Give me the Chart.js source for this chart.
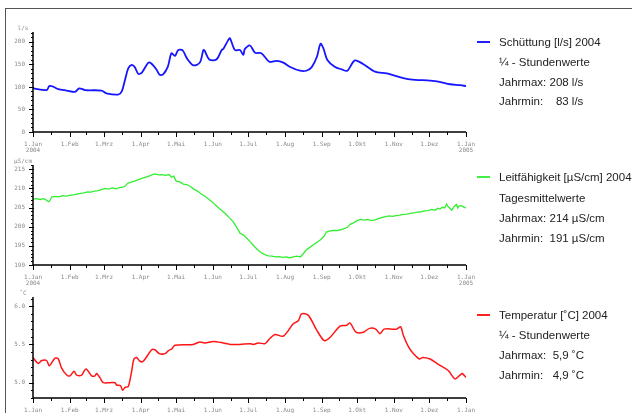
<!DOCTYPE html>
<html>
<head>
<meta charset="utf-8">
<script src="https://cdn.jsdelivr.net/npm/chart.js@4/dist/chart.umd.min.js"></script>
<style>
  html, body { margin: 0; padding: 0; background: #fff; }
  #page { position: relative; width: 632px; height: 413px; overflow: hidden; }
  #frame { position: absolute; left: 5px; top: 8px; right: 0; bottom: 0;
    border-top: 1.5px solid #555; border-left: 1.5px solid #555; }
  canvas { position: absolute; left: 0; top: 0; }
  .leg { position: absolute; left: 499px; font-family: "Liberation Sans", Arial, sans-serif;
    font-size: 11.5px; color: #222; white-space: pre; line-height: 14px; margin-top: -7px; }
  .swatch { position: absolute; left: 477px; width: 13px; height: 2px; }
</style>
</head>
<body>
<div id="page">
  <div id="frame"></div>
  <canvas id="flowChart" width="632" height="413"></canvas>
  <canvas id="condChart" width="632" height="413"></canvas>
  <canvas id="tempChart" width="632" height="413"></canvas>

  <div class="swatch" style="top:41px;background:#2020ff"></div>
  <div class="leg" style="top:42px">Schüttung [l/s] 2004</div>
  <div class="leg" style="top:62px">¼ - Stundenwerte</div>
  <div class="leg" style="top:82px">Jahrmax: 208 l/s</div>
  <div class="leg" style="top:101px">Jahrmin:    83 l/s</div>

  <div class="swatch" style="top:176px;background:#44ee44"></div>
  <div class="leg" style="top:177px">Leitfähigkeit [µS/cm] 2004</div>
  <div class="leg" style="top:198px">Tagesmittelwerte</div>
  <div class="leg" style="top:218px">Jahrmax: 214 µS/cm</div>
  <div class="leg" style="top:238px">Jahrmin:  191 µS/cm</div>

  <div class="swatch" style="top:314px;background:#ff2020"></div>
  <div class="leg" style="top:315px">Temperatur [˚C] 2004</div>
  <div class="leg" style="top:335px">¼ - Stundenwerte</div>
  <div class="leg" style="top:355px">Jahrmax:  5,9 ˚C</div>
  <div class="leg" style="top:375px">Jahrmin:   4,9 ˚C</div>
</div>
<script>
/* x axis: day of year 2004 (leap year), 1.Jan 2005 = 366 */
const monthDays = [0, 31, 60, 91, 121, 152, 182, 213, 244, 274, 305, 335, 366];
const monthLabels = ["1.Jan", "1.Feb", "1.Mrz", "1.Apr", "1.Mai", "1.Jun", "1.Jul",
  "1.Aug", "1.Sep", "1.Okt", "1.Nov", "1.Dez", "1.Jan"];
const midDays = [15, 45, 75, 106, 136, 167, 197, 228, 259, 289, 320, 350];

/* Schüttung [l/s] */
const flowDays = [0, 11.5, 13.8, 16.7, 21.4, 28.5, 35.5, 39, 44, 58, 62, 72, 75, 77.8, 80.5,
  83.4, 86, 89, 92, 97.5, 100, 104.5, 107, 110, 114, 117, 120, 122.8, 126.5, 130, 135.5,
  141, 144, 145, 149, 155, 159.5, 161, 165, 166.5, 170.7, 175, 177.8, 179, 183.4, 187.7,
  193, 199.7, 206, 211.6, 217, 225.7, 231, 235.6, 240, 243, 245.4, 248.8, 255, 261, 265.7,
  272, 279, 289, 299, 307, 318.7, 335.6, 342.6, 352.5, 361, 366];
const flowValues = [97, 93, 102, 101, 95, 92, 89, 97, 93, 92, 86, 83, 90, 116, 141,
  149, 144, 129, 132, 154, 152, 138, 127, 128, 145, 175, 169, 182, 181, 164, 148,
  154, 182, 181, 161, 161, 182, 185, 204, 208, 182, 182, 171, 184, 192, 176,
  175, 156, 158, 154, 145, 136, 136, 144, 167, 196, 186, 160, 145, 139, 136,
  159, 151, 134, 130, 124, 117, 114, 112, 106, 104, 102];
const flowTicks = [0, 50, 100, 150, 200];

/* Leitfähigkeit [µS/cm] */
const condDays = [0, 3, 6, 9, 11, 13, 14, 16, 19, 22, 25, 28, 31, 34, 37, 40, 43, 46, 49, 52,
  55, 58, 61, 64, 67, 70, 73, 76, 78, 80, 83, 86, 89, 92, 95, 98, 101, 103, 106, 109, 112,
  115, 117, 119, 121, 124, 127, 130, 133, 136, 139, 142, 145, 148, 151, 154, 157, 160, 163,
  166, 169, 172, 175, 178, 181, 184, 187, 190, 193, 196, 199, 202, 205, 208, 211, 214, 217,
  220, 223, 226, 228, 231, 234, 237, 240, 243, 246, 248, 251, 254, 257, 260, 263, 266, 268,
  271, 274, 277, 280, 283, 286, 289, 292, 295, 298, 301, 304, 307, 310, 313, 316, 319, 322,
  325, 328, 331, 334, 337, 340, 342, 344, 346, 348, 349.6, 351, 353, 354, 356, 358, 359,
  360, 362, 364, 366];
const condValues = [207.2, 207.3, 207.1, 207.3, 207.0, 206.5, 206.7, 207.8, 207.9, 207.8,
  208.1, 208.0, 208.2, 208.3, 208.5, 208.7, 208.8, 209.1, 209.0, 209.3, 209.4, 209.7, 210.0,
  209.8, 210.1, 209.9, 210.2, 210.3, 210.6, 211.3, 211.6, 211.9, 212.3, 212.6, 212.9, 213.2,
  213.6, 213.8, 213.5, 213.6, 213.4, 213.6, 212.9, 213.2, 211.9, 211.7, 211.1, 211.0, 210.5,
  209.8, 209.3, 208.6, 208.0, 207.3, 206.6, 205.7, 204.9, 204.1, 203.3, 202.3, 201.4, 199.9,
  198.3, 197.8, 196.9, 195.9, 194.9, 193.9, 193.2, 192.7, 192.4, 192.3, 192.1, 192.2, 192.0,
  192.1, 191.9, 192.1, 192.3, 192.1, 192.8, 193.9, 194.6, 195.3, 195.9, 196.6, 197.5, 198.6,
  198.9, 199.0, 199.0, 199.2, 199.5, 199.9, 200.6, 201.0, 201.6, 201.9, 201.7, 201.9, 201.6,
  201.8, 202.1, 202.4, 202.6, 202.8, 202.7, 202.9, 203.0, 203.2, 203.3, 203.5, 203.6, 203.8,
  203.9, 204.1, 204.2, 204.5, 204.3, 204.8, 204.6, 205.1, 204.9, 205.9, 205.2, 204.6, 204.3,
  205.3, 205.8, 204.9, 205.4, 205.5, 205.1, 204.9];
const condTicks = [190, 195, 200, 205, 210, 215];

/* Temperatur [˚C] */
const tempDays = [0, 0.9, 4.5, 7.3, 11.5, 13.8, 18.6, 21.4, 24.2, 28.5, 31.3, 34.7, 36.9, 41,
  44.8, 49.6, 52.4, 53.8, 56.4, 59.4, 65, 69.3, 70.7, 74, 75.8, 77.8, 80.5, 83.4, 85.3, 87.6,
  90.4, 93.2, 100.3, 103, 106.8, 111.6, 114.5, 117.2, 120, 135.5, 140.6, 145.5, 152.4, 160.9,
  166.5, 175, 183.4, 186.2, 190.5, 196.1, 200.3, 204.5, 211.6, 220, 224.3, 227, 232.7, 239.7,
  246.2, 251, 259.5, 265.1, 268, 273, 279.3, 284.4, 289.7, 293.3, 296.7, 304.6, 307.4, 310.8,
  313, 317.3, 321.5, 326.6, 329.4, 335.6, 342.6, 351, 356.7, 361, 362.7, 366];
const tempValues = [5.33, 5.31, 5.25, 5.29, 5.29, 5.22, 5.32, 5.31, 5.19, 5.10, 5.09, 5.15,
  5.10, 5.10, 5.18, 5.09, 5.09, 5.12, 5.07, 5.00, 5.00, 5.00, 4.97, 4.96, 4.90, 4.94, 4.95,
  5.15, 5.31, 5.33, 5.28, 5.28, 5.43, 5.43, 5.38, 5.38, 5.42, 5.44, 5.49, 5.50, 5.53, 5.52,
  5.54, 5.52, 5.50, 5.50, 5.51, 5.50, 5.52, 5.51, 5.58, 5.63, 5.61, 5.77, 5.81, 5.90, 5.88,
  5.69, 5.55, 5.59, 5.74, 5.75, 5.78, 5.66, 5.66, 5.71, 5.70, 5.64, 5.70, 5.70, 5.70, 5.73,
  5.62, 5.47, 5.38, 5.31, 5.33, 5.31, 5.24, 5.16, 5.05, 5.10, 5.12, 5.07];
const tempTicks = [5.0, 5.5, 6.0];

const tickFont = '6px "DejaVu Sans Mono", monospace';

/* draws the axes, ticks and tick labels of one panel */
const panelAxes = {
  id: "panelAxes",
  afterDraw(chart, args, opts) {
    const { ctx, chartArea } = chart;
    const { left, right, top, bottom } = chartArea;
    const x = chart.scales.x;
    const y = chart.scales.y;
    ctx.save();
    ctx.strokeStyle = "#000";
    ctx.lineWidth = 1.5;
    ctx.beginPath();
    ctx.moveTo(left, top);
    ctx.lineTo(left, bottom);
    ctx.lineTo(right, bottom);
    ctx.stroke();

    ctx.lineWidth = 1;
    ctx.beginPath();
    monthDays.forEach(d => {
      const px = Math.round(x.getPixelForValue(d)) + 0.5;
      ctx.moveTo(px, bottom);
      ctx.lineTo(px, bottom + 5);
    });
    midDays.forEach(d => {
      const px = Math.round(x.getPixelForValue(d)) + 0.5;
      ctx.moveTo(px, bottom);
      ctx.lineTo(px, bottom + 3);
    });
    /* minor y ticks */
    for (let v = y.min; v <= y.max + 1e-9; v += opts.minor) {
      const py = Math.round(y.getPixelForValue(v)) + 0.5;
      ctx.moveTo(left, py);
      ctx.lineTo(left - 2, py);
    }
    opts.ticks.forEach(v => {
      const py = Math.round(y.getPixelForValue(v)) + 0.5;
      ctx.moveTo(left + 1, py);
      ctx.lineTo(left - 4, py);
    });
    ctx.stroke();

    ctx.fillStyle = "#8a8a8a";
    ctx.font = tickFont;
    ctx.textBaseline = "middle";
    ctx.textAlign = "right";
    opts.ticks.forEach(v => {
      ctx.fillText(v.toFixed(opts.decimals), left - 8, y.getPixelForValue(v));
    });
    ctx.textAlign = "center";
    ctx.fillText(opts.unit, left - 10, top - 4);
    monthDays.forEach((d, i) => {
      const px = x.getPixelForValue(d);
      ctx.fillText(monthLabels[i], px, bottom + 12);
    });
    ctx.fillText("2004", x.getPixelForValue(0), bottom + 18);
    ctx.fillText("2005", x.getPixelForValue(366), bottom + 18);
    ctx.restore();
  }
};

function createPanel(id, days, values, color, yMin, yMax, area, axisOpts) {
  const canv = document.getElementById(id);
  new Chart(canv.getContext("2d"), {
    type: "line",
    data: {
      datasets: [{
        data: days.map((d, i) => ({ x: d, y: values[i] })),
        borderColor: color,
        borderWidth: axisOpts.width,
        pointRadius: 0,
        tension: axisOpts.tension,
        fill: false
      }]
    },
    options: {
      responsive: false,
      animation: false,
      events: [],
      layout: {
        padding: { left: area.left, right: 632 - area.right, top: area.top, bottom: 413 - area.bottom }
      },
      scales: {
        x: { type: "linear", min: 0, max: 366, display: false },
        y: { type: "linear", min: yMin, max: yMax, display: false }
      },
      plugins: {
        legend: { display: false },
        tooltip: { enabled: false },
        panelAxes: axisOpts
      }
    },
    plugins: [panelAxes]
  });
}

createPanel("flowChart", flowDays, flowValues, "#1515ff", 0, 222,
  { left: 33, right: 466, top: 32, bottom: 132 },
  { ticks: flowTicks, minor: 10, decimals: 0, unit: "l/s", width: 1.8, tension: 0.3 });

createPanel("condChart", condDays, condValues, "#33ee33", 190, 216.1,
  { left: 33, right: 466, top: 165, bottom: 265 },
  { ticks: condTicks, minor: 1, decimals: 0, unit: "µS/cm", width: 1.3, tension: 0 });

createPanel("tempChart", tempDays, tempValues, "#ff1515", 4.8, 6.12,
  { left: 33, right: 466, top: 297, bottom: 398 },
  { ticks: tempTicks, minor: 0.1, decimals: 1, unit: "˚C", width: 1.5, tension: 0.3 });
</script>
</body>
</html>
